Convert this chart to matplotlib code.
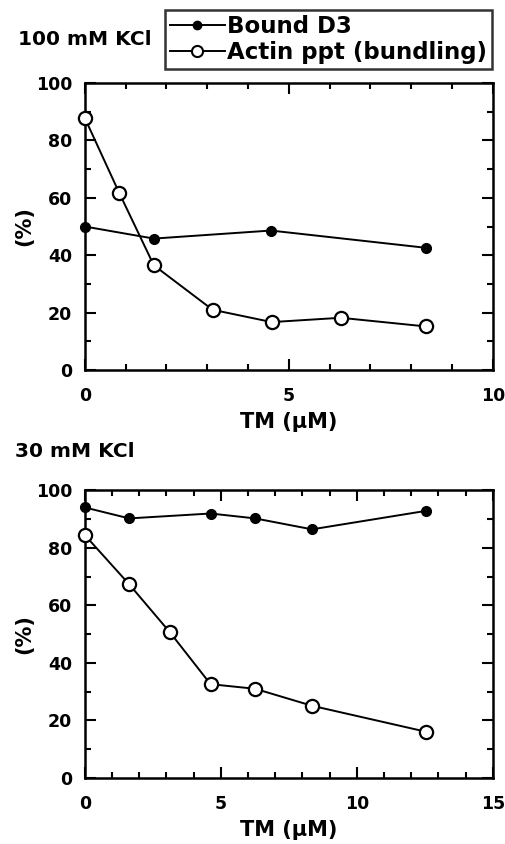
import matplotlib
matplotlib.use('Agg')
import matplotlib.pyplot as plt
from matplotlib.ticker import MultipleLocator
from matplotlib.lines import Line2D

plt.rcParams['font.family'] = ['DejaVu Sans']
plt.rcParams['font.weight'] = 'bold'

# 100 mM KCl
tm_100_bound = [0, 1.69, 4.56, 8.35]
bound_100 = [50.0, 45.8, 48.6, 42.6]
tm_100_actin = [0, 0.84, 1.69, 3.13, 4.58, 6.27, 8.35]
actin_100 = [87.8, 61.8, 36.5, 21.0, 16.7, 18.2, 15.2]

# 30 mM KCl
tm_30 = [0, 1.63, 4.62, 6.26, 8.35, 12.53]
bound_30 = [94.0, 90.2, 91.9, 90.2, 86.4, 92.8]
tm_30_actin = [0, 1.63, 3.13, 4.62, 6.26, 8.35, 12.53]
actin_30 = [84.4, 67.3, 50.6, 32.6, 31.0, 25.1, 16.1]

fig = plt.figure(figsize=(5.05, 8.44), dpi=100)
ax1 = fig.add_axes([0.168, 0.5616, 0.808, 0.340])
ax2 = fig.add_axes([0.168, 0.0782, 0.808, 0.341])


def style(ax, xmax):
    ax.set_xlim(0, xmax)
    ax.set_ylim(0, 100)
    ax.xaxis.set_major_locator(MultipleLocator(5))
    ax.xaxis.set_minor_locator(MultipleLocator(1))
    ax.yaxis.set_major_locator(MultipleLocator(20))
    ax.yaxis.set_minor_locator(MultipleLocator(10))
    ax.tick_params(which='both', direction='in', top=True, right=True,
                   labelsize=12.5, width=1.5, pad=9)
    ax.tick_params(axis='x', which='both', pad=12)
    ax.tick_params(which='major', length=8)
    ax.tick_params(which='minor', length=4)
    for s in ax.spines.values():
        s.set_linewidth(1.8)
    ax.set_xlabel('TM (\u03bcM)', fontsize=15, fontweight='bold', labelpad=5)
    ax.set_ylabel('(%)', fontsize=15, fontweight='bold', labelpad=1)


kw_b = dict(color='k', lw=1.4, marker='o', ms=7, mfc='k', mec='k', clip_on=False, zorder=3)
kw_a = dict(color='k', lw=1.4, marker='o', ms=9.5, mfc='white', mec='k', mew=1.6, clip_on=False, zorder=4)

ax1.plot(tm_100_bound, bound_100, **kw_b)
ax1.plot(tm_100_actin, actin_100, **kw_a)
style(ax1, 10)

ax2.plot(tm_30, bound_30, **kw_b)
ax2.plot(tm_30_actin, actin_30, **kw_a)
style(ax2, 15)

fig.text(0.035, 0.953, '100 mM KCl', fontsize=14.5, fontweight='bold', va='center')
fig.text(0.03, 0.4645, '30 mM KCl', fontsize=14.5, fontweight='bold', va='center')

handles = [Line2D([], [], color='k', lw=1.4, marker='o', ms=6, mfc='k', mec='k'),
           Line2D([], [], color='k', lw=1.4, marker='o', ms=8, mfc='white', mec='k', mew=1.5)]
leg = fig.legend(handles, ['Bound D3', 'Actin ppt (bundling)'],
                 loc='upper right', bbox_to_anchor=(0.974, 0.988),
                 prop={'size': 16.5, 'weight': 'bold'}, frameon=True, fancybox=False,
                 handlelength=2.4, handletextpad=0.1, borderpad=0.2, labelspacing=0.15,
                 borderaxespad=0)
leg.get_frame().set_edgecolor('k')
leg.get_frame().set_linewidth(1.8)

fig.savefig('out.png', dpi=100)
